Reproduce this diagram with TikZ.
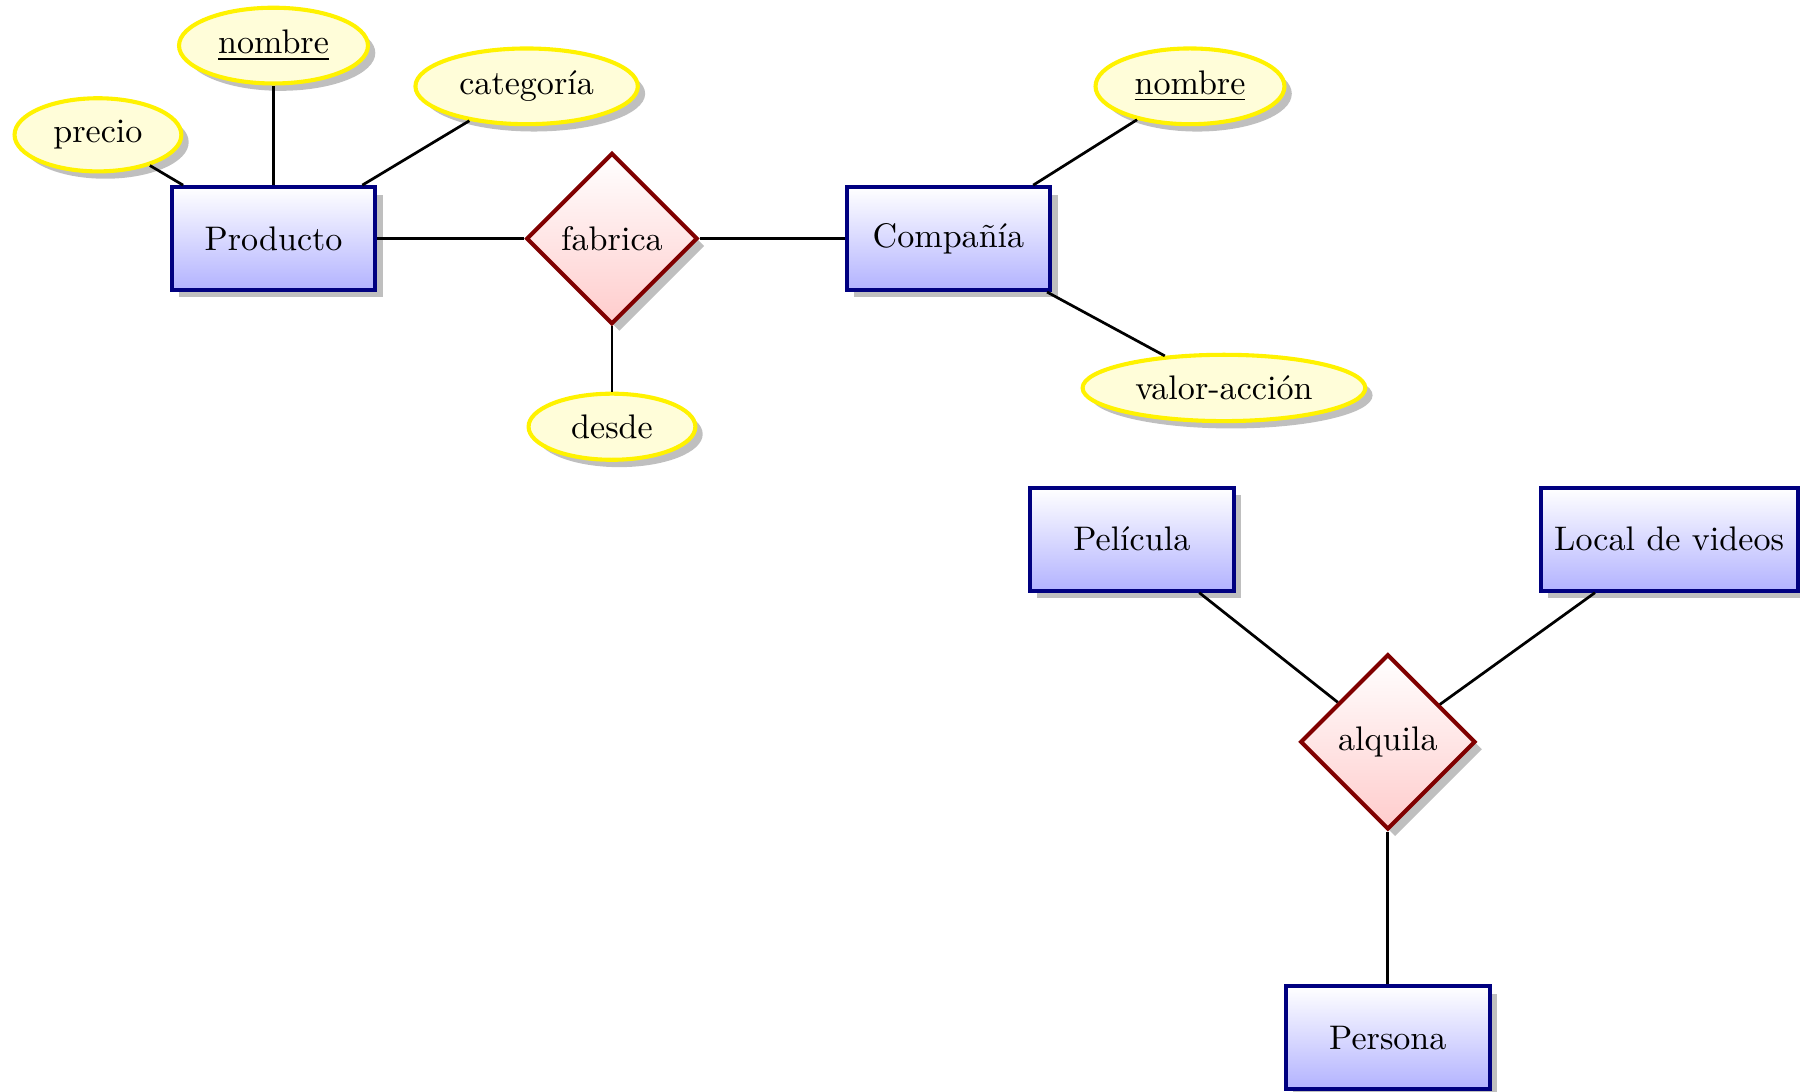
\documentclass[tikz,border=0pt]{standalone}
\usepackage{tikz}
\usetikzlibrary{shapes.geometric, shadows}

\begin{document}
\begin{tikzpicture}[
    entidad/.style={rectangle, draw=blue!50!black, very thick, top color=white, bottom color=blue!30, minimum width=2.1cm, minimum height=1.06cm, inner xsep=4pt, drop shadow},
    atributo/.style={ellipse, draw=yellow, very thick, fill=yellow!15, minimum width=1.72cm, drop shadow},
    relacion/.style={diamond, aspect=1, draw=red!50!black, very thick, top color=white, bottom color=red!20, drop shadow},
    linea/.style={thick}]

    \useasboundingbox (0,0) rectangle (18.56,-11.25);

    % Entidades
    \node [entidad] (producto) at (2.82,-2.46) {Producto};
    \node [entidad] (compania) at (9.78,-2.46) {Compañía};
    \node [entidad] (pelicula) at (11.67,-5.56) {Película};
    \node [entidad] (local) at (17.21,-5.56) {Local de videos};
    \node [entidad] (persona) at (14.31,-10.70) {Persona};

    % Relaciones
    \node [relacion] (fabrica) at (6.31,-2.46) {fabrica};
    \node [relacion] (alquila) at (14.31,-7.65) {alquila};

    % Atributos
    \node [atributo] (nombreP) at (2.82,-0.47) {\underline{nombre}};
    \node [atributo] (precio) at (1.01,-1.39) {precio};
    \node [atributo] (categoria) at (5.43,-0.89) {categoría};
    \node [atributo] (desde) at (6.31,-4.40) {desde};
    \node [atributo] (nombreC) at (12.27,-0.89) {\underline{nombre}};
    \node [atributo] (valor) at (12.62,-4.00) {valor-acción};

    % Conexiones
    \draw [linea] (producto) -- (fabrica);
    \draw [linea] (fabrica) -- (compania);
    \draw [linea] (fabrica) -- (desde);
    \draw [linea] (producto) -- (nombreP);
    \draw [linea] (producto) -- (precio);
    \draw [linea] (producto) -- (categoria);
    \draw [linea] (compania) -- (nombreC);
    \draw [linea] (compania) -- (valor);
    \draw [linea] (pelicula) -- (alquila);
    \draw [linea] (local) -- (alquila);
    \draw [linea] (alquila) -- (persona);
\end{tikzpicture}
\end{document}
